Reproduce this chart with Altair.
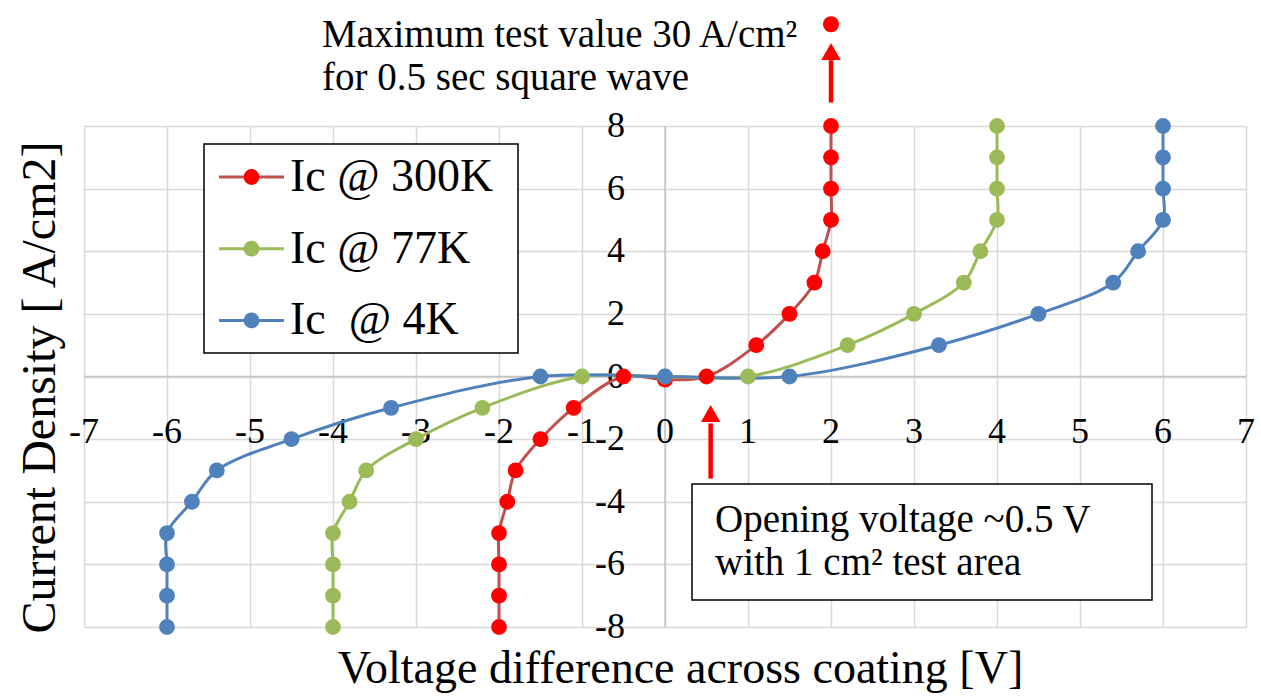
import altair as alt
import pandas as pd

# ---------------- data ----------------
series_names = ["Ic @ 300K", "Ic @ 77K", "Ic \u00a0@ 4K"]
line_colors = ["#C0504D", "#9BBB59", "#4F81BD"]
marker_colors = ["#FF0000", "#9BBB59", "#4F81BD"]

v_300k = [-2, -2, -2, -2, -1.9, -1.8, -1.5, -1.1, -0.5, 0, 0.5, 1.1, 1.5, 1.8, 1.9, 2, 2, 2, 2]
j_300k = [-8, -7, -6, -5, -4, -3, -2, -1, 0, -0.1, 0, 1, 2, 3, 4, 5, 6, 7, 8]
v_77k = [-4, -4, -4, -4, -3.8, -3.6, -3, -2.2, -1, 0, 1, 2.2, 3, 3.6, 3.8, 4, 4, 4, 4]
j_77k = [-8, -7, -6, -5, -4, -3, -2, -1, 0, 0, 0, 1, 2, 3, 4, 5, 6, 7, 8]
v_4k = [-6, -6, -6, -6, -5.7, -5.4, -4.5, -3.3, -1.5, 0, 1.5, 3.3, 4.5, 5.4, 5.7, 6, 6, 6, 6]
j_4k = [-8, -7, -6, -5, -4, -3, -2, -1, 0, 0, 0, 1, 2, 3, 4, 5, 6, 7, 8]

x_ticks = [-7, -6, -5, -4, -3, -2, -1, 0, 1, 2, 3, 4, 5, 6, 7]
y_ticks = [-8, -6, -4, -2, 0, 2, 4, 6, 8]

# maximum test point (drawn off-scale above the plot) and arrows
max_point_v = [2.0]
max_point_j = [11.25]
arrow_v = [2.0, 0.55]
arrow_tail = [8.75, -3.26]
arrow_base = [10.1, -1.5]
arrow_head = [10.38, -1.18]

top_note = ["Maximum test value 30 A/cm\u00b2", "for 0.5 sec square wave"]
box_note = ["Opening voltage ~0.5 V", "with 1 cm\u00b2 test area"]

x_title = "Voltage difference across coating [V]"
y_title = "Current Density [ A/cm2]"

# ---------------- tables ----------------
rows = []
for name, xs, ys in zip(series_names, [v_300k, v_77k, v_4k], [j_300k, j_77k, j_4k]):
    for i, (xv, yv) in enumerate(zip(xs, ys)):
        rows.append({"series": name, "v": xv, "j": yv, "idx": i})
df = pd.DataFrame(rows)

xt = pd.DataFrame({"v": x_ticks, "label": [str(t) for t in x_ticks]})
yt = pd.DataFrame({"j": y_ticks, "label": [str(t) for t in y_ticks]})
maxdf = pd.DataFrame({"v": max_point_v, "j": max_point_j})
arr = pd.DataFrame({"v": arrow_v, "tail": arrow_tail, "base": arrow_base, "head": arrow_head})
one = pd.DataFrame({"a": [0]})

FONT = "Liberation Serif"
W, H = 1162, 501

xscale = alt.Scale(domain=[-7, 7], nice=False, zero=False)
yscale = alt.Scale(domain=[-8, 8], nice=False, zero=False)

xaxis = alt.Axis(values=x_ticks, grid=True, labels=False, ticks=False, domain=False,
                 gridColor="#d9d9d9", gridWidth=1.5, title=x_title,
                 titleFont=FONT, titleFontSize=46, titleFontWeight="normal", titleColor="black",
                 titleX=596, titleY=41, titleAlign="center", titleBaseline="middle")
yaxis = alt.Axis(values=y_ticks, grid=True, labels=False, ticks=False, domain=False,
                 gridColor="#d9d9d9", gridWidth=1.5, title=y_title,
                 titleFont=FONT, titleFontSize=48, titleFontWeight="normal", titleColor="black",
                 titleX=-44, titleY=261, titleAngle=270, titleAlign="center", titleBaseline="middle")

base = alt.Chart(df)

grid = base.mark_point(opacity=0).encode(
    x=alt.X("v:Q", scale=xscale, axis=xaxis),
    y=alt.Y("j:Q", scale=yscale, axis=yaxis),
)

zero_x = alt.Chart(pd.DataFrame({"j": [0]})).mark_rule(color="#c4c4c4", strokeWidth=1.5).encode(
    y=alt.Y("j:Q", scale=yscale), x=alt.value(0), x2=alt.value(W))
zero_y = alt.Chart(pd.DataFrame({"v": [0]})).mark_rule(color="#c4c4c4", strokeWidth=1.5).encode(
    x=alt.X("v:Q", scale=xscale), y=alt.value(0), y2=alt.value(H))

xlabels = alt.Chart(xt).mark_text(font=FONT, fontSize=36, color="black", baseline="middle", align="center").encode(
    x=alt.X("v:Q", scale=xscale), y=alt.value(306), text="label:N")
ylabels = alt.Chart(yt).mark_text(font=FONT, fontSize=36, color="black", baseline="middle", align="right").encode(
    x=alt.value(541), y=alt.Y("j:Q", scale=yscale), text="label:N")

lines = base.mark_line(interpolate="catmull-rom", strokeWidth=3).encode(
    x=alt.X("v:Q", scale=xscale),
    y=alt.Y("j:Q", scale=yscale),
    color=alt.Color("series:N", scale=alt.Scale(domain=series_names, range=line_colors), legend=None),
    order="idx:Q",
)

points = base.mark_point(filled=True, size=250, opacity=1).encode(
    x=alt.X("v:Q", scale=xscale),
    y=alt.Y("j:Q", scale=yscale),
    fill=alt.Fill("series:N", scale=alt.Scale(domain=series_names, range=marker_colors), legend=None),
)

maxpt = alt.Chart(maxdf).mark_point(filled=True, size=260, color="#FF0000", opacity=1, clip=False).encode(
    x=alt.X("v:Q", scale=xscale), y=alt.Y("j:Q", scale=yscale))

shafts = alt.Chart(arr).mark_rule(color="#FF0000", strokeWidth=4.5, clip=False).encode(
    x=alt.X("v:Q", scale=xscale), y=alt.Y("tail:Q", scale=yscale), y2="base:Q")
heads = alt.Chart(arr).mark_point(shape="triangle-up", filled=True, size=380, color="#FF0000", opacity=1, clip=False).encode(
    x=alt.X("v:Q", scale=xscale), y=alt.Y("head:Q", scale=yscale))

layers = [grid, zero_x, zero_y, xlabels, ylabels, lines, points, maxpt, shafts, heads]

# top annotation (two lines)
for k, line in enumerate(top_note):
    layers.append(alt.Chart(one).mark_text(
        text=line, font=FONT, fontSize=39, color="black", align="left", baseline="middle").encode(
        x=alt.value(238), y=alt.value(-91 + 43 * k)))

# boxed annotation
layers.append(alt.Chart(one).mark_rect(fill="white", stroke="black", strokeWidth=1.5).encode(
    x=alt.value(608), x2=alt.value(1068), y=alt.value(358), y2=alt.value(474)))
for k, line in enumerate(box_note):
    layers.append(alt.Chart(one).mark_text(
        text=line, font=FONT, fontSize=39, color="black", align="left", baseline="middle").encode(
        x=alt.value(631), y=alt.value(394 + 43 * k)))

# legend (box, line + marker symbols, labels)
layers.append(alt.Chart(one).mark_rect(fill="white", stroke="black", strokeWidth=1.5).encode(
    x=alt.value(120), x2=alt.value(434), y=alt.value(18), y2=alt.value(227)))
for i, name in enumerate(series_names):
    yy = 51 + 71.7 * i
    layers.append(alt.Chart(one).mark_rule(color=line_colors[i], strokeWidth=3).encode(
        x=alt.value(135), x2=alt.value(200), y=alt.value(yy)))
    layers.append(alt.Chart(one).mark_point(filled=True, size=250, color=marker_colors[i], opacity=1).encode(
        x=alt.value(167.5), y=alt.value(yy)))
    layers.append(alt.Chart(one).mark_text(
        text=name, font=FONT, fontSize=46, color="black", align="left", baseline="middle").encode(
        x=alt.value(206), y=alt.value(yy)))

chart = alt.layer(*layers).properties(
    width=W, height=H,
    padding={"left": 84, "top": 126, "right": 15, "bottom": 71},
    autosize=alt.AutoSizeParams(type="none"),
).configure_view(stroke=None)

chart.save("out.html", embed_options={"renderer": "svg", "actions": False})
